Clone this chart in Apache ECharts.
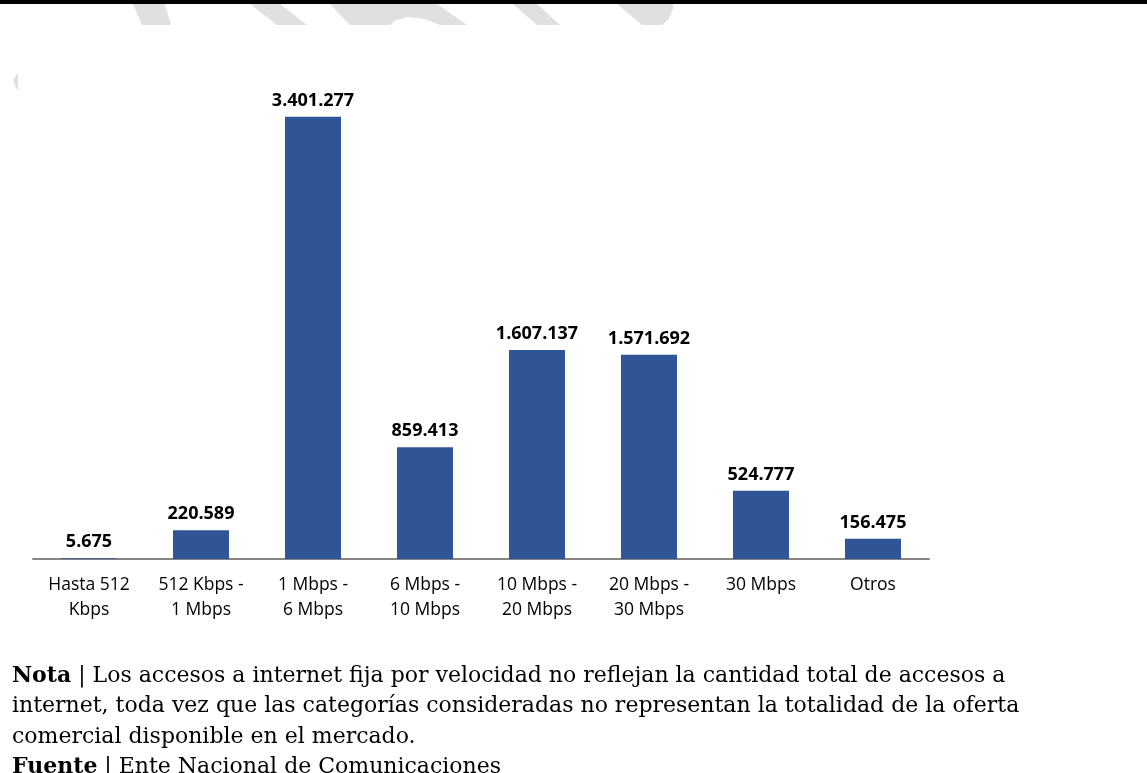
<!DOCTYPE html>
<html>
<head>
<meta charset="utf-8">
<script src="https://cdn.jsdelivr.net/npm/echarts@6/dist/echarts.min.js"></script>
<style>
  html, body { margin: 0; padding: 0; background: #ffffff; }
  #chart { width: 1147px; height: 773px; }
</style>
</head>
<body>
<div id="chart"></div>
<script>
// Accesos a internet fija por velocidad
const categories = [
  'Hasta 512\nKbps',
  '512 Kbps -\n1 Mbps',
  '1 Mbps -\n6 Mbps',
  '6 Mbps -\n10 Mbps',
  '10 Mbps -\n20 Mbps',
  '20 Mbps -\n30 Mbps',
  '30 Mbps',
  'Otros'
];
const accesos = [5675, 220589, 3401277, 859413, 1607137, 1571692, 524777, 156475];

const notaLines = [
  'Los accesos a internet fija por velocidad no reflejan la cantidad total de accesos a',
  'internet, toda vez que las categorías consideradas no representan la totalidad de la oferta',
  'comercial disponible en el mercado.'
];
const fuenteText = 'Ente Nacional de Comunicaciones';

// Spanish-style thousands separator
function fmt(v) {
  return String(v).replace(/\B(?=(\d{3})+(?!\d))/g, '.');
}

const chart = echarts.init(document.getElementById('chart'), null, { renderer: 'canvas' });

const sans = '"Open Sans", "Liberation Sans", sans-serif';
const serif = '"DejaVu Serif", "Liberation Serif", serif';
const noteSize = 22;
const noteTop = 665;
const noteStep = 30.5;

const graphics = [
  // top rule
  { type: 'rect', shape: { x: 0, y: 0, width: 1147, height: 4 }, style: { fill: '#000000' }, z: 10 },
  // faint header decoration
  { type: 'polygon', shape: { points: [[133,4],[165,4],[171,25],[142,25]] }, style: { fill: '#e0e0e0' } },
  { type: 'polygon', shape: { points: [[250,4],[280,4],[307,25],[277,25]] }, style: { fill: '#e0e0e0' } },
  { type: 'polygon', shape: { points: [[330,4],[437,4],[467,25],[440,25],[425,19],[408,17],[396,20],[390,25],[350,25]] }, style: { fill: '#e0e0e0' } },
  { type: 'polygon', shape: { points: [[513,4],[537,4],[560,25],[537,25]] }, style: { fill: '#e0e0e0' } },
  { type: 'polygon', shape: { points: [[617,4],[673,4],[673,9],[668,20],[662,25],[642,25]] }, style: { fill: '#e0e0e0' } },
  { type: 'polygon', shape: { points: [[18,73],[18,91],[15,86],[13,80]] }, style: { fill: '#e0e0e0' } }
];

const boldRich = { b: { fontWeight: 'bold', fontFamily: serif, fontSize: noteSize, fill: '#000' } };

// note block
graphics.push({
  type: 'text', left: 12, top: noteTop,
  style: {
    text: '{b|Nota} | ' + notaLines[0],
    font: noteSize + 'px ' + serif, fill: '#000',
    rich: boldRich
  }
});
for (let i = 1; i < notaLines.length; i++) {
  graphics.push({
    type: 'text', left: 12, top: noteTop + i * noteStep,
    style: { text: notaLines[i], font: noteSize + 'px ' + serif, fill: '#000' }
  });
}
graphics.push({
  type: 'text', left: 12, top: noteTop + 3 * noteStep,
  style: {
    text: '{b|Fuente} | ' + fuenteText,
    font: noteSize + 'px ' + serif, fill: '#000',
    rich: boldRich
  }
});

chart.setOption({
  animation: false,
  backgroundColor: '#ffffff',
  grid: { left: 33, right: 218, top: 104, bottom: 214 },
  xAxis: {
    type: 'category',
    data: categories,
    axisLine: { lineStyle: { color: '#868686', width: 2 } },
    axisTick: { show: false },
    axisLabel: {
      interval: 0,
      margin: 14,
      color: '#000000',
      fontFamily: sans,
      fontSize: 17.5,
      lineHeight: 25
    }
  },
  yAxis: {
    type: 'value',
    min: 0,
    max: 3500000,
    show: false,
    splitLine: { show: false }
  },
  series: [{
    type: 'bar',
    data: accesos,
    barWidth: '50%',
    itemStyle: { color: '#2F5597' },
    label: {
      show: true,
      position: 'top',
      distance: 7,
      color: '#000000',
      fontWeight: 'bold',
      fontFamily: sans,
      fontSize: 18,
      formatter: p => fmt(p.value)
    }
  }],
  graphic: graphics
});
</script>
</body>
</html>
